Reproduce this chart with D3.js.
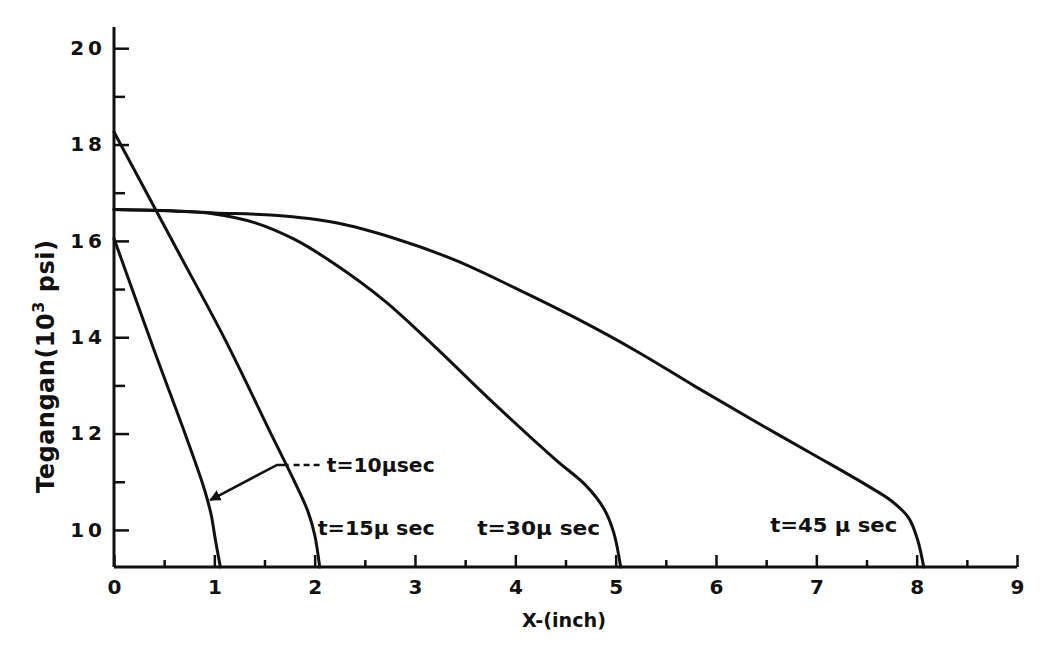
<!DOCTYPE html>
<html>
<head>
<meta charset="utf-8">
<script src="https://cdn.jsdelivr.net/npm/d3@7/dist/d3.min.js"></script>
<style>
  html, body { margin: 0; padding: 0; background: #fff; }
  svg { display: block; }
  text { font-family: "DejaVu Sans", sans-serif; font-weight: bold; fill: #111; }
</style>
</head>
<body>
<svg id="chart" width="1042" height="654"></svg>
<script>
// ---- data ----
const xMajorTicks = [0, 1, 2, 3, 4, 5, 6, 7, 8, 9];
const xMinorTicks = [0.5, 1.5, 2.5, 3.5, 4.5, 5.5, 6.5, 7.5, 8.5];
const yMajorTicks = [10, 12, 14, 16, 18, 20];
const yMinorTicks = [11, 13, 15, 17, 19];

const t10X = [0, 0.40, 0.72, 0.90, 0.97, 1.01, 1.06];
const t10Y = [16.05, 13.73, 11.93, 10.85, 10.3, 9.8, 9.23];

const t15X = [0, 0.63, 1.11, 1.58, 1.80, 1.93, 2.00, 2.05];
const t15Y = [18.26, 15.81, 13.94, 11.93, 11.0, 10.4, 9.9, 9.23];

const t30X = [0, 0.6, 1.0, 1.4, 1.8, 2.2, 2.7, 3.2, 3.8, 4.4, 4.7, 4.88, 4.98, 5.05];
const t30Y = [16.65, 16.62, 16.56, 16.38, 16.03, 15.52, 14.75, 13.8, 12.6, 11.46, 10.93, 10.45, 9.95, 9.23];

const t45X = [0, 0.6, 1.0, 1.6, 2.2, 2.8, 3.4, 4.0, 4.6, 5.2, 5.8, 6.4, 7.0, 7.5, 7.75, 7.92, 8.01, 8.07];
const t45Y = [16.65, 16.62, 16.58, 16.53, 16.38, 16.05, 15.6, 15.02, 14.4, 13.72, 12.97, 12.24, 11.53, 10.93, 10.6, 10.25, 9.79, 9.23];

const seriesLabels = ["t=10\u03BCsec", "t=15\u03BC sec", "t=30\u03BC sec", "t=45 \u03BC sec"];
const xTitle = "X-(inch)";
const yTitle = "Tegangan(10";

// annotation anchors (data units)
const arrowX = [0.96, 1.625, 1.74];
const arrowY = [10.62, 11.35, 11.35];
const dashX = [1.79, 2.07];
const labelX = [2.12, 2.03, 3.62, 6.54];
const labelY = [11.35, 10.04, 10.04, 10.1];
const labelLen = [108, 117, 123, 127];

// ---- drawing ----
const svg = d3.select("#chart");
const x = d3.scaleLinear().domain([0, 9]).range([114, 1017]);
const y = d3.scaleLinear().domain([9.23, 20.44]).range([567, 27]);

// axes lines
const axisG = svg.append("g");
axisG.append("line")
  .attr("x1", x(0)).attr("x2", x(0)).attr("y1", y(20.44)).attr("y2", y(9.23))
  .attr("stroke", "#111").attr("stroke-width", 3);
axisG.append("line")
  .attr("x1", x(0)).attr("x2", x(9)).attr("y1", y(9.23)).attr("y2", y(9.23))
  .attr("stroke", "#111").attr("stroke-width", 3);

// x axis via d3 axis (ticks pointing up inside)
const xAxis = d3.axisBottom(x).tickValues(xMajorTicks).tickSize(-12).tickPadding(13).tickFormat(d3.format("d"));
const gx = svg.append("g").attr("transform", `translate(0,${y(9.23)})`).call(xAxis);
gx.select(".domain").remove();
gx.selectAll(".tick line").attr("stroke", "#111").attr("stroke-width", 2.5);
gx.selectAll(".tick text").attr("font-size", 20).attr("dy", "0.72em")
  .style("font-family", "'DejaVu Sans', sans-serif").style("font-weight", "bold").attr("fill", "#111");

const xMinor = d3.axisBottom(x).tickValues(xMinorTicks).tickSize(-7).tickFormat("");
const gxm = svg.append("g").attr("transform", `translate(0,${y(9.23)})`).call(xMinor);
gxm.select(".domain").remove();
gxm.selectAll(".tick line").attr("stroke", "#111").attr("stroke-width", 2.5);

// y axis (ticks pointing right inside)
const yAxis = d3.axisLeft(y).tickValues(yMajorTicks).tickSize(-15).tickPadding(8).tickFormat(d3.format("d"));
const gy = svg.append("g").attr("transform", `translate(${x(0)},0)`).call(yAxis);
gy.select(".domain").remove();
gy.selectAll(".tick line").attr("stroke", "#111").attr("stroke-width", 2.5);
gy.selectAll(".tick text").attr("font-size", 20).attr("letter-spacing", 4)
  .style("font-family", "'DejaVu Sans', sans-serif").style("font-weight", "bold").attr("fill", "#111");

const yMinor = d3.axisLeft(y).tickValues(yMinorTicks).tickSize(-11).tickFormat("");
const gym = svg.append("g").attr("transform", `translate(${x(0)},0)`).call(yMinor);
gym.select(".domain").remove();
gym.selectAll(".tick line").attr("stroke", "#111").attr("stroke-width", 2.5);

// curves
const line = d3.line().x(d => x(d[0])).y(d => y(d[1])).curve(d3.curveCatmullRom.alpha(0.5));
const allSeries = [[t10X, t10Y], [t15X, t15Y], [t30X, t30Y], [t45X, t45Y]];
allSeries.forEach(([xs, ys]) => {
  svg.append("path")
    .datum(xs.map((v, i) => [v, ys[i]]))
    .attr("d", line)
    .attr("fill", "none").attr("stroke", "#111").attr("stroke-width", 3)
    .attr("stroke-linejoin", "round").attr("stroke-linecap", "round");
});

// arrow annotation
svg.append("defs").append("marker")
  .attr("id", "arrow").attr("viewBox", "0 0 10 10").attr("refX", 9).attr("refY", 5)
  .attr("markerWidth", 4.5).attr("markerHeight", 4.5).attr("orient", "auto-start-reverse")
  .append("path").attr("d", "M0,0 L10,5 L0,10 z").attr("fill", "#111");

svg.append("path")
  .datum(arrowX.map((v, i) => [v, arrowY[i]]))
  .attr("d", d3.line().x(d => x(d[0])).y(d => y(d[1])))
  .attr("fill", "none").attr("stroke", "#111").attr("stroke-width", 2.5)
  .attr("marker-start", "url(#arrow)");

svg.append("line")
  .attr("x1", x(dashX[0])).attr("x2", x(dashX[1]))
  .attr("y1", y(arrowY[1])).attr("y2", y(arrowY[1]))
  .attr("stroke", "#111").attr("stroke-width", 2.5).attr("stroke-dasharray", "6,4");

// series labels
seriesLabels.forEach((t, i) => {
  svg.append("text")
    .attr("x", x(labelX[i])).attr("y", y(labelY[i]))
    .attr("dy", "0.36em")
    .attr("font-size", 20)
    .attr("textLength", labelLen[i]).attr("lengthAdjust", "spacingAndGlyphs")
    .text(t);
});

// axis titles
svg.append("text")
  .attr("x", 522).attr("y", y(9.23) + 60)
  .attr("font-size", 19)
  .attr("textLength", 84).attr("lengthAdjust", "spacingAndGlyphs")
  .text(xTitle);

const yt = svg.append("text")
  .attr("transform", `translate(54,493) rotate(-90)`)
  .attr("font-size", 24).attr("letter-spacing", 0.5);
yt.append("tspan").text(yTitle);
yt.append("tspan").attr("dy", -10).attr("font-size", 16).text("3");
yt.append("tspan").attr("dy", 10).attr("font-size", 24).text(" psi)");
</script>
</body>
</html>
